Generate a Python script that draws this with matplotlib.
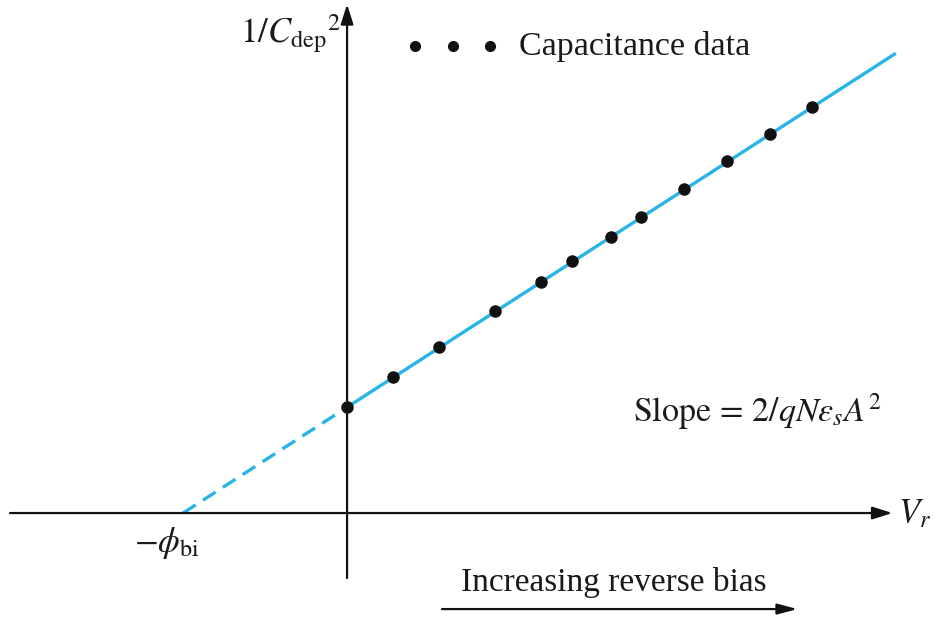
import numpy as np
import matplotlib.pyplot as plt

plt.rcParams['font.family'] = ['Liberation Serif', 'DejaVu Serif']
plt.rcParams['mathtext.fontset'] = 'stix'

# reverse bias (V) and measured 1/C^2 (arb. units)
vr_data = [0.0, 0.224, 0.449, 0.722, 0.946, 1.098, 1.288, 1.434, 1.644, 1.854, 2.063, 2.268]
inv_c2_data = [1.0, 1.283, 1.566, 1.906, 2.179, 2.377, 2.604, 2.792, 3.057, 3.321, 3.575, 3.830]

phi_bi = 0.8
slope = 1.2475
vr_end = 2.67

blue = '#29b4e6'

fig = plt.figure(figsize=(9.35, 6.22), dpi=100)
ax = fig.add_axes([0, 0, 1, 1])
ax.set_xlim(-1.693, 2.868)
ax.set_ylim(-1.028, 4.84)
ax.axis('off')

# axes with arrows
ax.annotate('', xy=(2.66, 0), xytext=(-1.644, 0),
            arrowprops=dict(arrowstyle='-|>,head_length=1.2,head_width=0.38',
                            color='#111111', lw=1.6, shrinkA=0, shrinkB=0))
ax.annotate('', xy=(0, 4.80), xytext=(0, -0.613),
            arrowprops=dict(arrowstyle='-|>,head_length=1.2,head_width=0.38',
                            color='#111111', lw=1.6, shrinkA=0, shrinkB=0))

# extrapolated (dashed) and fitted (solid) line
xd = np.array([-phi_bi, 0])
ax.plot(xd, slope * (xd + phi_bi), color=blue, lw=2.4, ls=(0, (4.5, 2.6)),
        solid_capstyle='butt', dash_capstyle='butt')
xs = np.array([0, vr_end])
ax.plot(xs, slope * (xs + phi_bi), color=blue, lw=2.4)

ax.plot(vr_data, inv_c2_data, 'o', color='#111111', ms=8, zorder=5)

# legend-style dots
ax.plot([0.332, 0.517, 0.698], [4.41, 4.41, 4.41], 'o', color='#111111', ms=7)
ax.text(0.84, 4.40, 'Capacitance data', fontsize=24.5, va='center', ha='left',
        color='#1a1a1a')

ax.text(-0.03, 4.52, r'$1/C_{\mathrm{dep}}{}^{2}$', fontsize=25,
        ha='right', va='center', color='#1a1a1a')
ax.text(2.77, -0.02, r'$V_r$', fontsize=25, ha='center', va='center',
        color='#1a1a1a')
ax.text(-0.88, -0.28, r'$-\phi_{\mathrm{bi}}$', fontsize=25, ha='center',
        va='center', color='#1a1a1a')
ax.text(1.395, 0.95, r'$\mathrm{Slope}\,=\,2/qN\varepsilon_sA^2$', fontsize=24.5,
        ha='left', va='center', color='#1a1a1a')

ax.text(1.30, -0.66, 'Increasing reverse bias', fontsize=24, ha='center',
        va='center', color='#1a1a1a')
ax.annotate('', xy=(2.197, -0.906), xytext=(0.463, -0.906),
            arrowprops=dict(arrowstyle='-|>,head_length=1.2,head_width=0.32',
                            color='#111111', lw=1.6, shrinkA=0, shrinkB=0))

plt.savefig('out.png', dpi=100)
plt.close()
